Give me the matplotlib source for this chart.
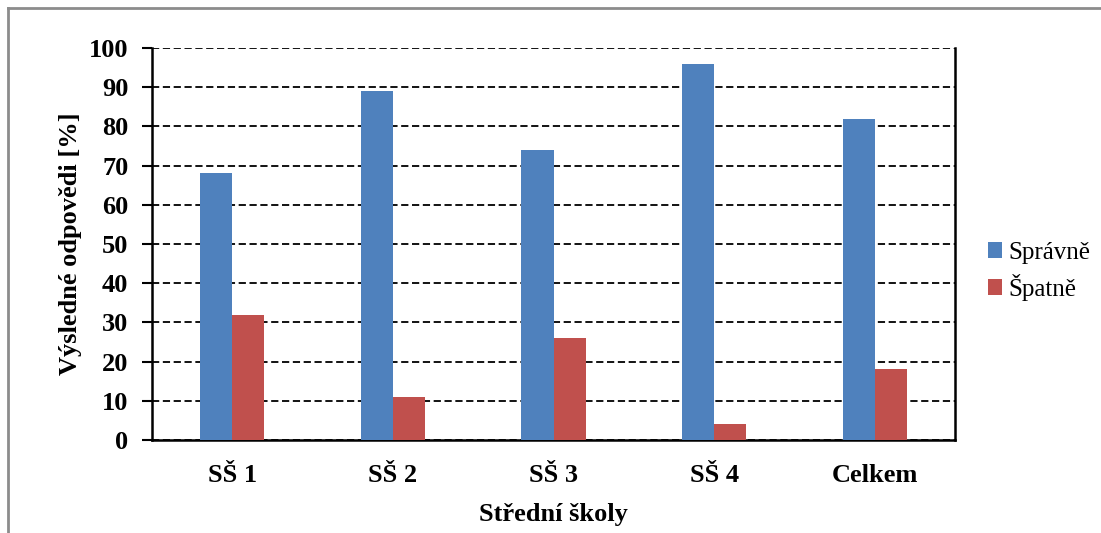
import matplotlib.pyplot as plt
from matplotlib.lines import Line2D
import numpy as np

skoly = ['SŠ 1', 'SŠ 2', 'SŠ 3', 'SŠ 4', 'Celkem']
spravne = [68, 89, 74, 96, 82]
spatne = [32, 11, 26, 4, 18]

plt.rcParams['font.family'] = ['Liberation Serif', 'DejaVu Serif']
fs = 19

fig = plt.figure(figsize=(11.01, 5.33), dpi=100)
ax = fig.add_axes([152 / 1101, 1 - 440 / 533, 803 / 1101, 392 / 533])

x = np.arange(len(skoly))
w = 0.2
ax.bar(x - w / 2, spravne, w, color='#4F81BD', label='Správně', zorder=3)
ax.bar(x + w / 2, spatne, w, color='#C0504D', label='Špatně', zorder=3)

ax.set_xlim(-0.5, len(skoly) - 0.5)
ax.set_ylim(0, 100)
ax.set_yticks(range(0, 101, 10))
ax.set_xticks(x)
ax.set_xticklabels(skoly, fontsize=fs, fontweight='bold')
ax.tick_params(axis='y', labelsize=fs, length=7, width=1.5, direction='out', pad=10)
ax.tick_params(axis='x', length=0, pad=17)
for t in ax.get_yticklabels():
    t.set_fontweight('bold')

ax.yaxis.grid(True, color='black', linestyle=(0, (4, 2)), linewidth=1.3, zorder=0)
ax.set_axisbelow(True)
ax.spines['top'].set_visible(False)
for s in ['left', 'right', 'bottom']:
    ax.spines[s].set_linewidth(1.8)
    ax.spines[s].set_color('black')

ax.set_ylabel('Výsledné odpovědi [%]', fontsize=fs, fontweight='bold', labelpad=5)
ax.set_xlabel('Střední školy', fontsize=fs, fontweight='bold', labelpad=12)

ax.legend(loc='center left', bbox_to_anchor=(1.016, 0.43), frameon=False, fontsize=18,
          handlelength=0.56, handleheight=0.56, handletextpad=0.28, labelspacing=0.4,
          borderaxespad=0.4)

# šedý rámeček kolem grafu
c = '#8c8c8c'
fig.add_artist(Line2D([8 / 1101, 8 / 1101], [0, 1 - 8 / 533], color=c, lw=2))
fig.add_artist(Line2D([8 / 1101, 1], [1 - 8 / 533, 1 - 8 / 533], color=c, lw=2))

fig.savefig('out.png', dpi=100)
